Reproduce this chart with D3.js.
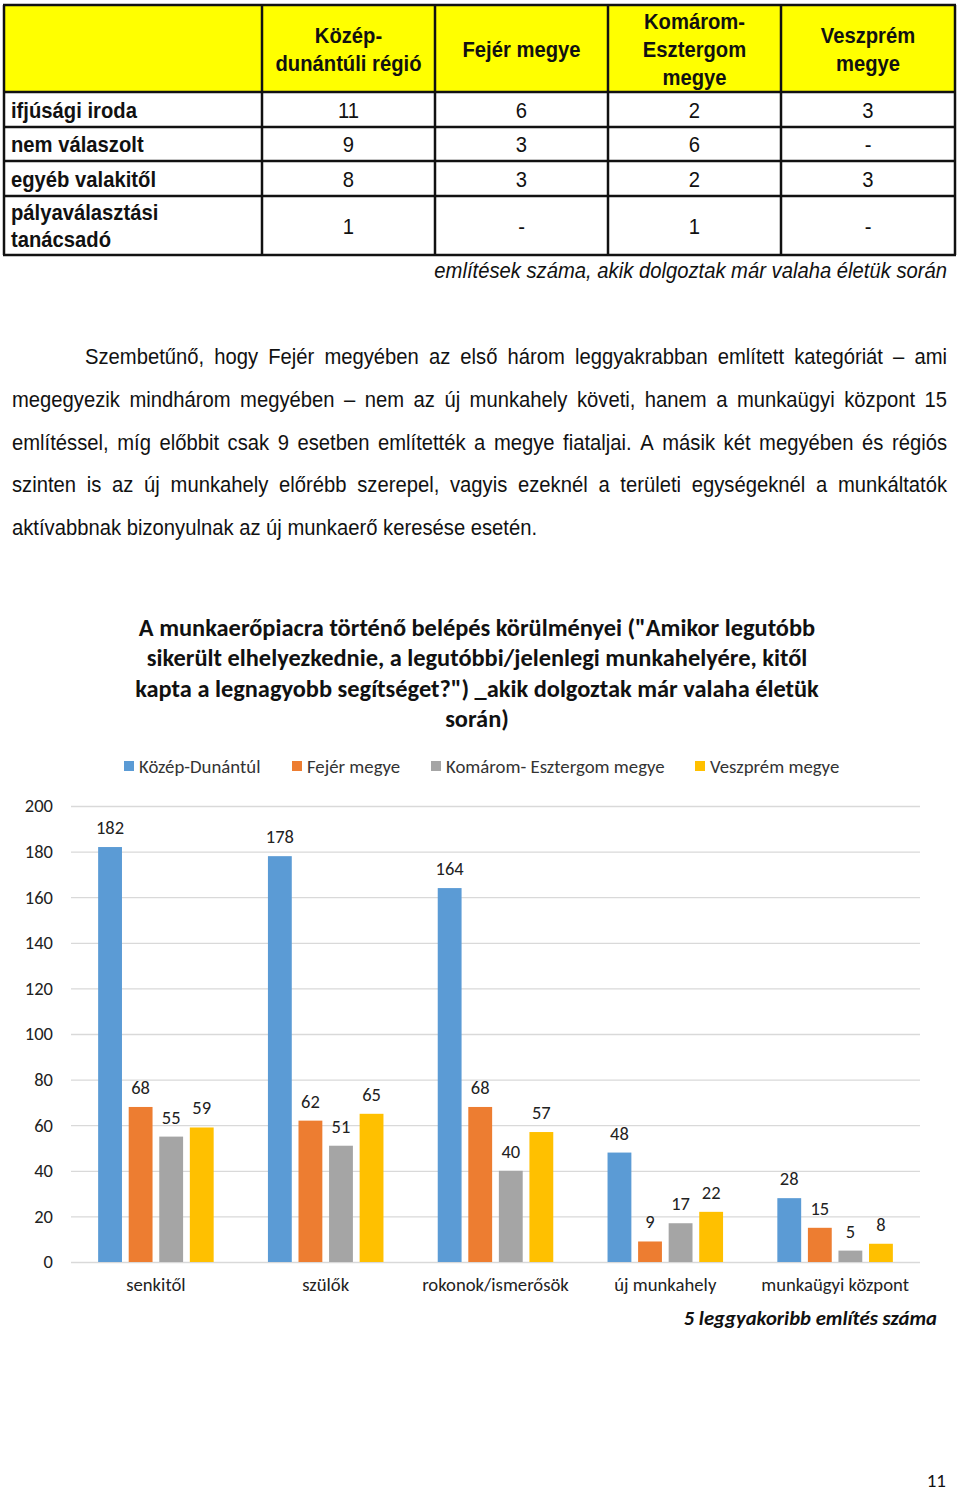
<!DOCTYPE html>
<html>
<head>
<meta charset="utf-8">
<script src="https://cdn.jsdelivr.net/npm/d3@7"></script>
<style>
  html, body { margin: 0; padding: 0; background: #fff; }
  svg { display: block; }
  .narrow { font-family: "Liberation Sans Narrow", "Arial Narrow", "Liberation Sans", Arial, sans-serif; }
  .cal { font-family: Carlito, Calibri, Lato, "Open Sans", sans-serif; }
</style>
</head>
<body>
<svg id="page" width="960" height="1491"></svg>
<script>
// ---------- DATA ----------
const tableColumns = ["Közép-|dunántúli régió", "Fejér megye", "Komárom-|Esztergom|megye", "Veszprém|megye"];
const tableRows = ["ifjúsági iroda", "nem válaszolt", "egyéb valakitől", "pályaválasztási|tanácsadó"];
const tableKozep = ["11", "9", "8", "1"];
const tableFejer = ["6", "3", "3", "-"];
const tableKomarom = ["2", "6", "2", "1"];
const tableVeszprem = ["3", "-", "3", "-"];
const tableNote = "említések száma, akik dolgoztak már valaha életük során";

const paragraphLines = [
  "Szembetűnő, hogy Fejér megyében az első három leggyakrabban említett kategóriát – ami",
  "megegyezik mindhárom megyében – nem az új munkahely követi, hanem a munkaügyi központ 15",
  "említéssel, míg előbbit csak 9 esetben említették a megye fiataljai. A másik két megyében és régiós",
  "szinten is az új munkahely előrébb szerepel, vagyis ezeknél a területi egységeknél a munkáltatók",
  "aktívabbnak bizonyulnak az új munkaerő keresése esetén."
];

const chartTitle = [
  "A munkaerőpiacra történő belépés körülményei (\"Amikor legutóbb",
  "sikerült elhelyezkednie, a legutóbbi/jelenlegi munkahelyére, kitől",
  "kapta a legnagyobb segítséget?\") _akik dolgoztak már valaha életük",
  "során)"
];
const categories = ["senkitől", "szülők", "rokonok/ismerősök", "új munkahely", "munkaügyi központ"];
const seriesNames = ["Közép-Dunántúl", "Fejér megye", "Komárom- Esztergom megye", "Veszprém megye"];
const kozepDunantul = [182, 178, 164, 48, 28];
const fejerMegye = [68, 62, 68, 9, 15];
const komaromEsztergom = [55, 51, 40, 17, 5];
const veszpremMegye = [59, 65, 57, 22, 8];
const yTickValues = [0, 20, 40, 60, 80, 100, 120, 140, 160, 180, 200];
const chartNote = "5 leggyakoribb említés száma";
const pageNumber = "11";

// ---------- DRAW ----------
const svg = d3.select("#page");
svg.append("rect").attr("width", 960).attr("height", 1491).attr("fill", "#fff");

const SX = 0.92; // horizontal condensation of narrow text
function ntext(g, x, y, str, opts = {}) {
  const t = g.append("text")
    .attr("transform", `translate(${x},${y}) scale(${SX},1)`)
    .attr("text-anchor", opts.anchor || "start")
    .attr("font-size", opts.size || 22)
    .attr("fill", "#111")
    .text(str);
  if (opts.bold) t.attr("font-weight", "bold");
  if (opts.italic) t.attr("font-style", "italic");
  return t;
}

// Table
const colX = [4, 262, 435, 608, 781, 955];
const rowY = [5, 92, 127, 161, 196, 255];
const tg = svg.append("g").attr("class", "narrow");
tg.append("rect").attr("x", colX[0]).attr("y", rowY[0]).attr("width", colX[5] - colX[0]).attr("height", rowY[1] - rowY[0]).attr("fill", "#ffff00");
const cols = [tableKozep, tableFejer, tableKomarom, tableVeszprem];

tableColumns.forEach((h, i) => {
  const lines = h.split("|");
  const cx = (colX[i + 1] + colX[i + 2]) / 2;
  const cy = (rowY[0] + rowY[1]) / 2;
  const lh = 28;
  lines.forEach((ln, j) => {
    ntext(tg, cx, cy + (j - (lines.length - 1) / 2) * lh + 8, ln, { anchor: "middle", bold: true });
  });
});
tableRows.forEach((r, i) => {
  const lines = r.split("|");
  const cy = (rowY[i + 1] + rowY[i + 2]) / 2;
  const lh = 27;
  lines.forEach((ln, j) => {
    ntext(tg, 11, cy + (j - (lines.length - 1) / 2) * lh + 8, ln, { bold: true });
  });
  cols.forEach((c, k) => {
    const cx = (colX[k + 1] + colX[k + 2]) / 2;
    ntext(tg, cx, cy + 8, c[i], { anchor: "middle" });
  });
});
rowY.forEach(y => tg.append("line").attr("x1", colX[0] - 1).attr("x2", colX[5] + 1).attr("y1", y).attr("y2", y).attr("stroke", "#111").attr("stroke-width", 2.5));
colX.forEach(x => tg.append("line").attr("x1", x).attr("x2", x).attr("y1", rowY[0]).attr("y2", rowY[5]).attr("stroke", "#111").attr("stroke-width", 2.5));
ntext(tg, 947, 278, tableNote, { anchor: "end", italic: true });

// Paragraph (justified)
const pg = svg.append("g").attr("class", "narrow");
const baseY = 364, lineStep = 42.8;
paragraphLines.forEach((ln, i) => {
  const left = i === 0 ? 85 : 12, right = 947;
  const y = baseY + i * lineStep;
  if (i === paragraphLines.length - 1) {
    ntext(pg, left, y, ln);
    return;
  }
  const words = ln.split(" ");
  const nodes = words.map(w => ntext(pg, 0, y, w));
  const widths = nodes.map(n => n.node().getComputedTextLength() * SX);
  const gap = (right - left - d3.sum(widths)) / (words.length - 1);
  let x = left;
  nodes.forEach((n, k) => { n.attr("transform", `translate(${x},${y}) scale(${SX},1)`); x += widths[k] + gap; });
});

// Chart
const margin = { left: 71, right: 920, top: 806, bottom: 1262 };
const y = d3.scaleLinear().domain([0, 200]).range([margin.bottom, margin.top]);
const x0 = d3.scaleBand().domain(categories).range([margin.left, margin.right]).paddingInner(0.28).paddingOuter(0.14);
const x1 = d3.scaleBand().domain(seriesNames).range([0, x0.bandwidth()]).paddingInner(0.22).paddingOuter(0.11);
const colors = d3.scaleOrdinal().domain(seriesNames).range(["#5b9bd5", "#ed7d31", "#a5a5a5", "#ffc000"]);
const seriesValues = [kozepDunantul, fejerMegye, komaromEsztergom, veszpremMegye];

const cg = svg.append("g").attr("class", "cal");
chartTitle.forEach((t, i) => {
  cg.append("text").attr("x", 477).attr("y", 636 + i * 30.3).attr("text-anchor", "middle")
    .attr("font-size", 24.4).attr("font-weight", "bold").attr("fill", "#111").text(t);
});
const legX = [124, 292, 431, 695];
seriesNames.forEach((s, i) => {
  cg.append("rect").attr("x", legX[i]).attr("y", 761).attr("width", 10).attr("height", 10).attr("fill", colors(s));
  cg.append("text").attr("x", legX[i] + 15).attr("y", 772.5).attr("font-size", 18.8).attr("fill", "#333").text(s);
});
const yAxis = d3.axisLeft(y).tickValues(yTickValues).tickSize(-(margin.right - margin.left)).tickPadding(18);
const ag = cg.append("g").attr("transform", `translate(${margin.left},0)`).call(yAxis);
ag.select(".domain").remove();
ag.selectAll(".tick line").attr("stroke", "#d9d9d9").attr("stroke-width", 1.3);
ag.selectAll(".tick text").attr("font-size", 18.5).attr("fill", "#222").attr("font-family", "Carlito, Calibri, Lato, sans-serif");

const groups = cg.selectAll(".grp").data(categories).join("g").attr("transform", c => `translate(${x0(c)},0)`);
groups.each(function (c, ci) {
  const g = d3.select(this);
  seriesNames.forEach((s, si) => {
    const v = seriesValues[si][ci];
    g.append("rect").attr("x", x1(s)).attr("y", y(v)).attr("width", x1.bandwidth()).attr("height", y(0) - y(v)).attr("fill", colors(s));
    g.append("text").attr("x", x1(s) + x1.bandwidth() / 2).attr("y", y(v) - 13).attr("text-anchor", "middle")
      .attr("font-size", 18.5).attr("fill", "#222").text(v);
  });
});
const xAxis = d3.axisBottom(x0).tickSize(0).tickPadding(16);
const xg = cg.append("g").attr("transform", `translate(0,${margin.bottom})`).call(xAxis);
xg.select(".domain").remove();
xg.selectAll(".tick text").attr("font-size", 18.7).attr("fill", "#222").attr("font-family", "Carlito, Calibri, Lato, sans-serif");

cg.append("text").attr("x", 937).attr("y", 1325).attr("text-anchor", "end").attr("font-size", 20.7)
  .attr("font-weight", "bold").attr("font-style", "italic").attr("fill", "#111").text(chartNote);
cg.append("text").attr("x", 946).attr("y", 1487).attr("text-anchor", "end").attr("font-size", 19)
  .attr("fill", "#111").text(pageNumber);
</script>
</body>
</html>
